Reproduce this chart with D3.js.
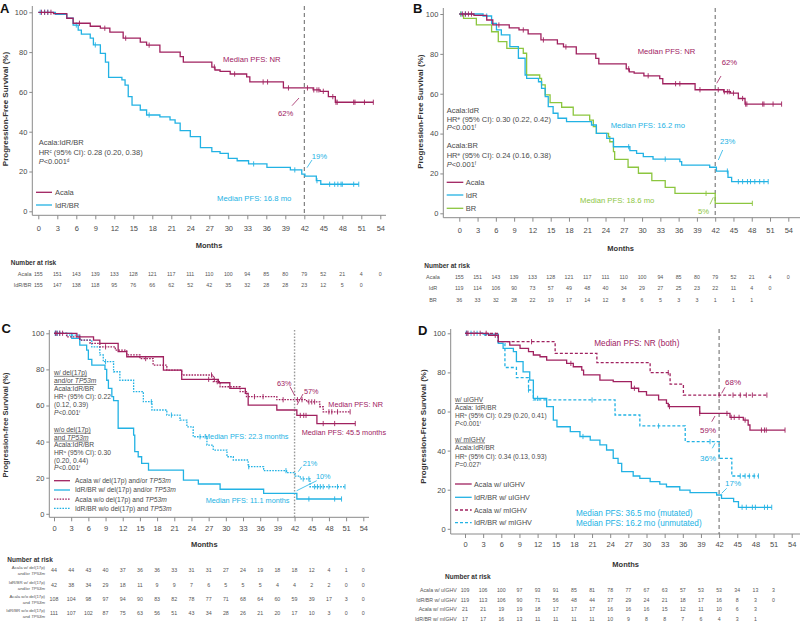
<!DOCTYPE html>
<html><head><meta charset="utf-8">
<script src="https://cdn.jsdelivr.net/npm/d3@7"></script>
<style>body{margin:0;background:#fff}svg{display:block}</style>
</head><body><svg id="c" width="800" height="621"></svg>
<script>
// ---------------- DATA ----------------
const months = d3.range(0, 55, 3);
const survTicks = [0, 20, 40, 60, 80, 100];

// Overall Acala (panels A and B)
const acalaT = [0, 2.4, 4.5, 5.5, 8.2, 9.8, 11.3, 13.4, 16.1, 17.1, 19.2, 22.4, 22.9, 27.4, 27.9, 28.7, 30.3, 32.9, 33.4, 38.7, 43.4, 44.5, 45.8, 46.9, 52.9];
const acalaS = [100, 99.3, 97, 94.5, 93, 92, 90, 87, 85, 83.5, 80, 77.7, 75, 72.5, 71, 70.3, 69, 67.6, 65, 62, 61, 60.3, 57.6, 54.8, 54.8];
const acalaCens = [0.5, 1, 1.5, 2, 6.5, 10.5, 13.8, 17.5, 27.8, 31, 35.5, 36.2, 39.5, 42.5, 43.5, 44, 44.3, 45, 46.5, 47, 47.2, 49.8, 50, 51.5, 52.9];
// Panel A IdR/BR
const idrbrT = [0, 2.7, 4.5, 5.5, 6.3, 6.8, 8.2, 8.7, 9.8, 10.6, 11.1, 13.2, 13.7, 14.2, 14.8, 16.1, 17.1, 19.2, 20.8, 21.6, 22.4, 24.0, 25.6, 27.4, 28.7, 30.0, 31.4, 33.2, 36.1, 39.8, 41.6, 42.1, 43.9, 44.6, 50.6];
const idrbrS = [100, 99, 97, 93.6, 91, 89, 87, 83.6, 79.4, 75, 67.3, 66, 63.4, 57.6, 53.4, 50.9, 48.4, 47.4, 45.9, 44.3, 40.5, 37.5, 32, 30, 29.1, 26.6, 25.4, 23.8, 22.1, 20.8, 18.7, 17.7, 15.4, 13.6, 13.6];
const idrbrCens = [0.3, 1, 1.5, 6, 9, 17.5, 34, 40.5, 44, 46, 46.8, 47.3, 47.8, 48, 49.8, 50.6];
// Panel B IdR and BR
const idrT = [0, 3.9, 5.3, 6.1, 6.9, 8.3, 9.7, 10.8, 11.05, 13, 13.5, 14.1, 14.6, 15.4, 16.2, 17.6, 21.7, 22.5, 24.2, 25.3, 28, 29.1, 30.2, 31.8, 36.2, 36.5, 41.1, 42.2, 44.1, 44.7, 50.7];
const idrS = [100, 99, 95.3, 92, 89.5, 83.6, 77.8, 69.4, 67.7, 66, 62.7, 58.5, 53.5, 50.2, 47.7, 46, 44.3, 40.1, 37.6, 33.4, 31.4, 30.1, 28.4, 27.2, 25.9, 24.2, 23.1, 21.2, 18, 15.9, 15.9];
const idrCens = [0.3, 1, 4.5, 27.8, 33.8, 44, 45.8, 46.5, 47.3, 47.8, 48.5, 49.3, 50, 50.7];
const brT = [0, 0.7, 2.8, 5.3, 6.4, 7.8, 10.5, 11.05, 13.2, 13.5, 14.1, 14.9, 16.8, 18.7, 21.4, 22, 22.5, 24.5, 24.7, 25.3, 25.5, 27.7, 29.4, 31.6, 33.8, 35.4, 42, 48.1];
const brS = [100, 97.8, 94.5, 91.1, 86.1, 82.8, 80.3, 69.4, 67.7, 64.4, 59.4, 55.5, 53.2, 49.3, 46.8, 43.5, 40.1, 38.4, 35.9, 30.9, 27.1, 23.1, 20.1, 16.4, 13, 10, 5, 5];
const brCens = [0.2, 40.5, 48.1];
// Panel C
const cAcalaDelT = [0, 4, 6.9, 8, 11.2, 12.7, 19.1, 22.3, 28.7, 30.7, 33.4, 33.9, 38.9, 42.4, 45.9, 52.6];
const cAcalaDelS = [100, 98, 96.2, 94.4, 89.8, 87, 79.6, 74.5, 72.6, 69.5, 66.7, 60.2, 57.5, 54.5, 50, 50];
const cAcalaDelCens = [0.5, 1.5, 4.5, 27, 28, 43, 43.6, 44, 47, 49, 52.6];
const cIdrDelT = [0, 3.1, 4.5, 5.7, 6, 6.6, 8.9, 9.2, 9.5, 10.1, 10.4, 11.2, 13.9, 14.1, 14.7, 15.3, 16.5, 22.6, 25.2, 29, 36.6, 42.4, 50.2];
const cIdrDelS = [100, 97.2, 93.5, 90.7, 85.5, 82.4, 80, 74, 69.5, 64.9, 62.7, 47.4, 43.6, 34.4, 31.6, 27.9, 24.2, 18.7, 16.5, 13.6, 11.3, 8.2, 8.2];
const cIdrDelCens = [0.3, 44.5, 49, 50.2];
const cAcalaNoT = [0, 2.2, 4.5, 6.3, 8, 10.7, 12.7, 15, 17.3, 19.7, 22.3, 27.8, 29, 32.5, 33.6, 38.9, 44.1, 46.4, 47, 51.7];
const cAcalaNoS = [100, 98, 96.2, 94.4, 92.5, 90.7, 88, 86, 82.4, 79.6, 76.9, 73.2, 70.4, 67.7, 64.9, 63.2, 62, 59.3, 56.5, 56.5];
const cAcalaNoCens = [0.3, 1, 9, 16, 27.5, 28.5, 35, 36.5, 40, 42.5, 43.3, 44.5, 45, 45.5, 48, 48.5, 49.5, 51.7];
const cIdrNoT = [0, 2.2, 4.5, 6.6, 8, 8.6, 10.4, 11.5, 13.9, 15.6, 17.1, 19.7, 22, 23.2, 24.3, 26.7, 27.8, 30.2, 31.3, 33.9, 36.6, 40.6, 42.1, 43, 44.7, 50.8];
const cIdrNoS = [100, 99, 96.2, 92.5, 88, 84.3, 78.7, 74, 67.7, 62.1, 57.5, 54.7, 51.9, 48.2, 42.7, 38.1, 35.3, 31.6, 29.8, 26.1, 23.9, 22.8, 20.9, 19.3, 15, 15];
const cIdrNoCens = [0.2, 0.6, 1, 9, 17, 20.5, 25.5, 34, 40.5, 43.5, 44.5, 45.5, 46, 46.5, 47, 48, 49.5, 50.8];
// Panel D
const dAcalaUT = [0, 3.9, 5.5, 7.4, 9.1, 10.5, 11.3, 12.4, 13.5, 16.8, 17.9, 19.3, 19.6, 22.3, 24.5, 27.5, 28.7, 30, 32, 33.3, 33.6, 38.8, 43.8, 46, 46.8, 47.1, 52.9];
const dAcalaUS = [100, 99, 95.7, 94, 92.3, 90.6, 88.9, 88, 86.3, 84.6, 82.9, 81.2, 78.7, 76.1, 75.3, 71.9, 70.2, 68.4, 65.9, 64.2, 62.5, 59, 57, 55.6, 53.1, 50.5, 50.5];
const dAcalaUCens = [0.5, 1.5, 2.5, 3.5, 5, 17.5, 28, 33.8, 38.8, 43.3, 44, 44.5, 45.3, 46.3, 49, 49.5, 49.8, 52.9];
const dAcalaMT = [0, 5.5, 14.9, 21.8, 30.6, 33.9, 36.1, 49.9];
const dAcalaMS = [100, 95.7, 89.7, 85, 79.9, 74, 68.4, 68.4];
const dAcalaMCens = [0.3, 11, 33.6, 42, 44.3, 45.5, 46.5, 47.5, 49.9];
const dIdrUT = [0, 3, 5.5, 6.3, 8, 8.5, 9.6, 10.7, 11.3, 13.5, 14.6, 15.2, 17.4, 19, 20.7, 22.3, 23.4, 24.5, 25.3, 25.9, 27.8, 28.9, 30.6, 32.2, 33.3, 35.5, 37.2, 41.6, 42.4, 44.4, 45.2, 50.7];
const dIdrUS = [100, 99.6, 94.8, 92.3, 90.6, 85.5, 80.3, 76.1, 66.7, 62.5, 55.6, 52.2, 49.7, 47.2, 45.4, 42.9, 40.3, 36, 33.5, 29.2, 27, 25.8, 24.1, 22.9, 21.5, 19.8, 18.5, 17.3, 15.6, 13.9, 11, 11];
const dIdrUCens = [0.2, 1, 2, 12, 19.5, 45.8, 46.5, 47.5, 48, 49.5, 50, 50.7];
const dIdrMT = [0, 3.3, 5.5, 6.6, 8.5, 10.5, 11.3, 24.8, 28.9, 36.4, 42, 44.1, 48.5];
const dIdrMS = [100, 99, 94.8, 82.5, 77.3, 71, 65.9, 58.2, 52.6, 44.6, 36, 27, 27];
const dIdrMCens = [0.3, 10.5, 21, 32, 40.5, 45.5, 46.3, 47, 47.8, 48.5];

// Numbers at risk
const riskAcala = [155, 151, 143, 139, 133, 128, 121, 117, 111, 110, 100, 94, 85, 80, 79, 52, 21, 4, 0];
const riskIdrbr = [155, 147, 138, 118, 95, 76, 66, 62, 52, 42, 35, 32, 28, 28, 23, 12, 5, 0];
const riskIdr = [119, 114, 106, 90, 73, 57, 49, 48, 40, 34, 29, 27, 25, 23, 22, 11, 4, 0];
const riskBr = [36, 33, 32, 28, 22, 19, 17, 14, 12, 8, 6, 5, 3, 3, 1, 1, 1];
const riskCAcalaDel = [44, 44, 43, 40, 37, 36, 36, 33, 31, 31, 27, 24, 19, 18, 18, 12, 4, 1, 0];
const riskCIdrDel = [42, 38, 34, 29, 18, 11, 9, 9, 7, 6, 5, 5, 5, 4, 4, 2, 2, 0, 0];
const riskCAcalaNo = [108, 104, 98, 97, 94, 90, 83, 82, 78, 77, 71, 68, 64, 60, 59, 39, 17, 3, 0];
const riskCIdrNo = [111, 107, 102, 87, 75, 63, 56, 51, 43, 34, 28, 26, 21, 20, 17, 10, 3, 0, 0];
const riskDAcalaU = [109, 106, 100, 97, 93, 91, 85, 81, 78, 77, 67, 63, 57, 53, 53, 34, 13, 3];
const riskDIdrU = [119, 113, 106, 90, 71, 56, 48, 44, 37, 29, 24, 21, 18, 17, 16, 8, 3, 0];
const riskDAcalaM = [21, 21, 19, 19, 18, 17, 17, 17, 16, 16, 16, 15, 12, 11, 10, 6, 3];
const riskDIdrM = [17, 17, 16, 13, 11, 11, 11, 11, 10, 9, 8, 8, 7, 6, 4, 3, 1];

// ---------------- DRAWING ----------------
const FONT = '"Liberation Sans", Arial, Helvetica, sans-serif';
const MAG = '#a0215f', CY = '#22b2e4', GR = '#8cc63f', TXT = '#4a4a4a', AX = '#8a8a8a';
const svg = d3.select('#c').attr('font-family', FONT);

function txt(g, x, y, segs, o = {}) {
  const size = o.size || 7;
  const t = g.append('text').attr('x', x).attr('y', y).attr('dy', '0.35em')
    .attr('font-size', size).attr('fill', o.fill || TXT)
    .attr('text-anchor', o.anchor || 'start');
  if (o.bold) t.attr('font-weight', 'bold');
  if (o.underline) t.attr('text-decoration', 'underline');
  if (o.rotate) t.attr('transform', `rotate(-90,${x},${y})`);
  if (typeof segs === 'string') segs = [[segs]];
  segs.forEach(([s, st]) => {
    const sp = t.append('tspan').text(s);
    if (st && st.includes('i')) sp.attr('font-style', 'italic');
    if (st && st.includes('s')) sp.attr('baseline-shift', 'super').attr('font-size', size * 0.6);
  });
  return t;
}
function seg(g, x1, y1, x2, y2, c, w = 0.8, dash = null) {
  return g.append('line').attr('x1', x1).attr('y1', y1).attr('x2', x2).attr('y2', y2)
    .attr('stroke', c).attr('stroke-width', w).attr('stroke-dasharray', dash);
}
function setup(L) {
  const g = svg.append('g');
  const x = d3.scaleLinear().domain([0, 54]).range([L.x0, L.x54]);
  const y = d3.scaleLinear().domain([0, 100]).range([L.y0, L.y100]);
  seg(g, L.axX, L.axTop, L.axX, L.axY, AX, 1);
  seg(g, L.axX, L.axY, L.axRight, L.axY, AX, 1);
  const xa = g.append('g').attr('transform', `translate(0,${L.axY})`)
    .call(d3.axisBottom(x).tickValues(months).tickSize(4).tickPadding(L.xpad));
  xa.select('.domain').remove();
  xa.attr('font-family', FONT).attr('font-size', 7.5);
  xa.selectAll('line').attr('stroke', AX);
  xa.selectAll('text').attr('fill', TXT);
  const ya = g.append('g').attr('transform', `translate(${L.axX},0)`)
    .call(d3.axisLeft(y).tickValues(survTicks).tickSize(3).tickPadding(2));
  ya.select('.domain').remove();
  ya.attr('font-family', FONT).attr('font-size', 7.5);
  ya.selectAll('line').attr('stroke', AX);
  ya.selectAll('text').attr('fill', TXT);
  return { g, x, y };
}
function curve(P, T, S, cens, color, dash) {
  const pts = T.map((t, i) => [t, S[i]]);
  P.g.append('path').datum(pts)
    .attr('d', d3.line().x(d => P.x(d[0])).y(d => P.y(d[1])).curve(d3.curveStepAfter))
    .attr('fill', 'none').attr('stroke', color).attr('stroke-width', 1.3)
    .attr('stroke-dasharray', dash || null);
  cens.forEach(c => {
    let i = 0; while (i + 1 < T.length && T[i + 1] <= c) i++;
    const cx = P.x(c), cy = P.y(S[i]);
    seg(P.g, cx, cy - 2.6, cx, cy + 2.6, color, 0.9);
  });
}
function refLine(P, L, color, dash, w) {
  seg(P.g, P.x(42), L.axTop, P.x(42), L.axY, color, w, dash);
}
function riskRow(P, vals, yy, size) {
  vals.forEach((v, i) => txt(P.g, P.x(months[i]), yy, String(v), { size, anchor: 'middle', fill: '#555' }));
}
function legendItem(g, x1, x2, tx, yy, color, dash, label, size) {
  seg(g, x1, yy, x2, yy, color, 1.3, dash);
  txt(g, tx, yy, label, { size });
}

// ---------- Panel A ----------
{
  const L = { x0: 38.3, x54: 380.3, y0: 211.3, y100: 12.3, axX: 32.3, axY: 215.3, axRight: 386, axTop: 6, xpad: 6 };
  const P = setup(L);
  refLine(P, L, '#555', '4,3', 0.9);
  curve(P, idrbrT, idrbrS, idrbrCens, CY);
  curve(P, acalaT, acalaS, acalaCens, MAG);
  txt(P.g, 0, 8, 'A', { size: 13, bold: true, fill: '#111' });
  txt(P.g, 5, 109, 'Progression-Free Survival (%)', { size: 8, bold: true, anchor: 'middle', rotate: true, fill: '#333' });
  txt(P.g, 223, 59, 'Median PFS: NR', { size: 7.7, fill: MAG });
  txt(P.g, 278, 113, '62%', { size: 7.7, fill: MAG });
  seg(P.g, 292, 105.7, 299, 98, MAG);
  txt(P.g, 311.7, 156.7, '19%', { size: 7.7, fill: CY });
  seg(P.g, 307, 167.7, 312, 160, CY);
  txt(P.g, 217, 198, 'Median PFS: 16.8 mo', { size: 7.7, fill: CY });
  txt(P.g, 38.7, 142.7, 'Acala:IdR/BR', { size: 7.5 });
  txt(P.g, 38.7, 152, [['HR'], ['c', 's'], [' (95% CI): 0.28 (0.20, 0.38)']], { size: 7.5 });
  txt(P.g, 38.7, 161.7, [['P', 'i'], ['<0.001'], ['d', 's']], { size: 7.5 });
  legendItem(P.g, 36, 52, 55, 192.3, MAG, null, 'Acala', 7.5);
  legendItem(P.g, 36, 52, 55, 205, CY, null, 'IdR/BR', 7.5);
  txt(P.g, 209, 245.7, 'Months', { size: 7.5, bold: true, anchor: 'middle', fill: '#333' });
  txt(P.g, 10.7, 262.7, 'Number at risk', { size: 6.5, bold: true, fill: '#333' });
  txt(P.g, 31.5, 274, 'Acala', { size: 5.5, anchor: 'end', fill: '#555' });
  txt(P.g, 31.5, 285, 'IdR/BR', { size: 5.5, anchor: 'end', fill: '#555' });
  riskRow(P, riskAcala, 274, 5.3);
  riskRow(P, riskIdrbr, 285, 5.3);
}

// ---------- Panel B ----------
{
  const L = { x0: 459.3, x54: 788.3, y0: 213.3, y100: 14, axX: 443.3, axY: 217.7, axRight: 800, axTop: 8, xpad: 6 };
  const P = setup(L);
  refLine(P, L, '#555', '4,3', 0.9);
  curve(P, brT, brS, brCens, GR);
  curve(P, idrT, idrS, idrCens, CY);
  curve(P, acalaT, acalaS, acalaCens, MAG);
  txt(P.g, 413, 8.5, 'B', { size: 13, bold: true, fill: '#111' });
  txt(P.g, 420, 111.7, 'Progression-Free Survival (%)', { size: 8, bold: true, anchor: 'middle', rotate: true, fill: '#333' });
  txt(P.g, 637.7, 51, 'Median PFS: NR', { size: 7.7, fill: MAG });
  txt(P.g, 721.7, 62.3, '62%', { size: 7.7, fill: MAG });
  seg(P.g, 716.7, 83.3, 721, 76, MAG);
  txt(P.g, 446.7, 110, 'Acala:IdR', { size: 7.5 });
  txt(P.g, 446.7, 119, [['HR'], ['e', 's'], [' (95% CI): 0.30 (0.22, 0.42)']], { size: 7.5 });
  txt(P.g, 446.7, 127, [['P', 'i'], ['<0.001'], ['f', 's']], { size: 7.5 });
  txt(P.g, 446.7, 145.7, 'Acala:BR', { size: 7.5 });
  txt(P.g, 446.7, 155, [['HR'], ['e', 's'], [' (95% CI): 0.24 (0.16, 0.38)']], { size: 7.5 });
  txt(P.g, 446.7, 164.5, [['P', 'i'], ['<0.001'], ['f', 's']], { size: 7.5 });
  legendItem(P.g, 446.7, 463.3, 465.7, 182.3, MAG, null, 'Acala', 7.5);
  legendItem(P.g, 446.7, 463.3, 465.7, 195, CY, null, 'IdR', 7.5);
  legendItem(P.g, 446.7, 463.3, 465.7, 208.3, GR, null, 'BR', 7.5);
  txt(P.g, 610.7, 125, 'Median PFS: 16.2 mo', { size: 7.7, fill: CY });
  txt(P.g, 720, 141.7, '23%', { size: 7.7, fill: CY });
  seg(P.g, 718.3, 160, 722.7, 150, CY);
  txt(P.g, 580, 200.7, 'Median PFS: 18.6 mo', { size: 7.7, fill: GR });
  txt(P.g, 698, 211.7, '5%', { size: 7.7, fill: GR });
  seg(P.g, 710, 204.3, 713.3, 197.3, GR);
  txt(P.g, 620.7, 248.3, 'Months', { size: 7.5, bold: true, anchor: 'middle', fill: '#333' });
  txt(P.g, 424.3, 266, 'Number at risk', { size: 6.5, bold: true, fill: '#333' });
  txt(P.g, 433, 277.3, 'Acala', { size: 5.5, anchor: 'middle', fill: '#555' });
  txt(P.g, 433, 288.3, 'IdR', { size: 5.5, anchor: 'middle', fill: '#555' });
  txt(P.g, 433, 300, 'BR', { size: 5.5, anchor: 'middle', fill: '#555' });
  riskRow(P, riskAcala, 277.3, 5.3);
  riskRow(P, riskIdr, 288.3, 5.3);
  riskRow(P, riskBr, 300, 5.3);
}

// ---------- Panel C ----------
{
  const L = { x0: 54, x54: 363.3, y0: 513.8, y100: 333.3, axX: 49.3, axY: 517.3, axRight: 369, axTop: 330, xpad: 4 };
  const P = setup(L);
  refLine(P, L, '#9a9a9a', '1.6,1.6', 1.4);
  const dot = '1.6,1.2';
  curve(P, cIdrNoT, cIdrNoS, cIdrNoCens, CY, dot);
  curve(P, cIdrDelT, cIdrDelS, cIdrDelCens, CY);
  curve(P, cAcalaNoT, cAcalaNoS, cAcalaNoCens, MAG, dot);
  curve(P, cAcalaDelT, cAcalaDelS, cAcalaDelCens, MAG);
  txt(P.g, 1.5, 328, 'C', { size: 13, bold: true, fill: '#111' });
  txt(P.g, 5, 425, 'Progression-free Survival (%)', { size: 7.5, bold: true, anchor: 'middle', rotate: true, fill: '#333' });
  const s = 6.7;
  txt(P.g, 54, 372.5, 'w/ del(17p)', { size: s, underline: true });
  txt(P.g, 54, 381, [['and/or '], ['TP53m', 'i']], { size: s, underline: true });
  txt(P.g, 54, 388.8, 'Acala:IdR/BR', { size: s });
  txt(P.g, 54, 396.7, [['HR'], ['a', 's'], [' (95% CI): 0.22']], { size: s });
  txt(P.g, 54, 405, '(0.12, 0.39)', { size: s });
  txt(P.g, 54, 412.5, [['P', 'i'], ['<0.001'], ['f', 's']], { size: s });
  txt(P.g, 54, 429.5, 'w/o del(17p)', { size: s, underline: true });
  txt(P.g, 54, 437.3, [['and '], ['TP53m', 'i']], { size: s, underline: true });
  txt(P.g, 54, 445, 'Acala:IdR/BR', { size: s });
  txt(P.g, 54, 452.8, [['HR'], ['a', 's'], [' (95% CI): 0.30']], { size: s });
  txt(P.g, 54, 461, '(0.20, 0.44)', { size: s });
  txt(P.g, 54, 468, [['P', 'i'], ['<0.001'], ['f', 's']], { size: s });
  legendItem(P.g, 54, 70, 75, 480.7, MAG, null, [['Acala w/ del(17p) and/or '], ['TP53m', 'i']], s);
  legendItem(P.g, 54, 70, 75, 490, CY, null, [['IdR/BR w/ del(17p) and/or '], ['TP53m', 'i']], s);
  legendItem(P.g, 54, 70, 75, 499.2, MAG, dot, [['Acala w/o del(17p) and '], ['TP53m', 'i']], s);
  legendItem(P.g, 54, 70, 75, 508.3, CY, dot, [['IdR/BR w/o del(17p) and '], ['TP53m', 'i']], s);
  txt(P.g, 277, 383.3, '63%', { size: 7.3, fill: MAG });
  seg(P.g, 290, 386.7, 295, 396, MAG);
  txt(P.g, 304, 391, '57%', { size: 7.3, fill: MAG });
  seg(P.g, 303, 394, 297, 405, MAG);
  txt(P.g, 328.3, 404, 'Median PFS: NR', { size: 7.3, fill: MAG });
  txt(P.g, 301.7, 432.3, 'Median PFS: 45.5 months', { size: 7.3, fill: MAG });
  txt(P.g, 204, 436.7, 'Median PFS: 22.3 months', { size: 7.3, fill: CY });
  txt(P.g, 302.7, 463, '21%', { size: 7.3, fill: CY });
  seg(P.g, 298.3, 471.7, 301.7, 466.7, CY);
  txt(P.g, 316, 476.7, '10%', { size: 7.3, fill: CY });
  seg(P.g, 296.7, 490.7, 316.7, 480.7, CY);
  txt(P.g, 205.7, 500.7, 'Median PFS: 11.1 months', { size: 7.3, fill: CY });
  txt(P.g, 204.3, 544.3, 'Months', { size: 7.5, bold: true, anchor: 'middle', fill: '#333' });
  txt(P.g, 7.3, 559.3, 'Number at risk', { size: 6.5, bold: true, fill: '#333' });
  const rl = 4.3, rx = 45;
  const rows = [
    [riskCAcalaDel, 570, 'Acala w/ del(17p)', [['and/or '], ['TP53m', 'i']]],
    [riskCIdrDel, 585, 'IdR/BR w/ del(17p)', [['and/or '], ['TP53m', 'i']]],
    [riskCAcalaNo, 599, 'Acala w/o del(17p)', [['and '], ['TP53m', 'i']]],
    [riskCIdrNo, 613.5, 'IdR/BR w/o del(17p)', [['and '], ['TP53m', 'i']]]
  ];
  rows.forEach(([vals, yy, l1, l2]) => {
    txt(P.g, rx, yy - 3, l1, { size: rl, anchor: 'end', fill: '#555' });
    txt(P.g, rx, yy + 3, l2, { size: rl, anchor: 'end', fill: '#555' });
    riskRow(P, vals, yy, 5.3);
  });
}

// ---------- Panel D ----------
{
  const L = { x0: 465, x54: 791.7, y0: 528.8, y100: 333.3, axX: 450.7, axY: 534, axRight: 800, axTop: 329, xpad: 4 };
  const P = setup(L);
  refLine(P, L, '#555', '4,3', 0.9);
  const dsh = '3,2';
  curve(P, dIdrMT, dIdrMS, dIdrMCens, CY, dsh);
  curve(P, dIdrUT, dIdrUS, dIdrUCens, CY);
  curve(P, dAcalaMT, dAcalaMS, dAcalaMCens, MAG, dsh);
  curve(P, dAcalaUT, dAcalaUS, dAcalaUCens, MAG);
  txt(P.g, 418, 330, 'D', { size: 13, bold: true, fill: '#111' });
  txt(P.g, 423.3, 426.5, 'Progression-Free Survival (%)', { size: 8, bold: true, anchor: 'middle', rotate: true, fill: '#333' });
  txt(P.g, 594.3, 343.3, 'Median PFS: NR (both)', { size: 8.2, fill: MAG });
  txt(P.g, 725, 381.7, '68%', { size: 8, fill: MAG });
  seg(P.g, 721.7, 393.3, 725, 387.3, MAG);
  txt(P.g, 700, 430, '59%', { size: 8, fill: MAG });
  seg(P.g, 711.7, 421.7, 715, 416, MAG);
  txt(P.g, 700, 458.3, '36%', { size: 8, fill: CY });
  seg(P.g, 712.3, 448.3, 715, 443.3, CY);
  txt(P.g, 725, 483.3, '17%', { size: 8, fill: CY });
  seg(P.g, 721.7, 493.3, 726.7, 488.3, CY);
  txt(P.g, 576, 513.3, 'Median PFS: 36.5 mo (mutated)', { size: 8.2, fill: CY });
  txt(P.g, 576, 523.3, 'Median PFS: 16.2 mo (unmutated)', { size: 8.2, fill: CY });
  const s = 6.6;
  txt(P.g, 455, 400, 'w/ uIGHV', { size: s, underline: true });
  txt(P.g, 455, 407.7, 'Acala: IdR/BR', { size: s });
  txt(P.g, 455, 416, [['HR'], ['a', 's'], [' (95% CI): 0.29 (0.20, 0.41)']], { size: s });
  txt(P.g, 455, 424, [['P', 'i'], ['<0.001'], ['f', 's']], { size: s });
  txt(P.g, 455, 439.3, 'w/ mIGHV', { size: s, underline: true });
  txt(P.g, 455, 448, 'Acala:IdR/BR', { size: s });
  txt(P.g, 455, 456.5, [['HR'], ['a', 's'], [' (95% CI): 0.34 (0.13, 0.93)']], { size: s });
  txt(P.g, 455, 465, [['P', 'i'], ['=0.027'], ['f', 's']], { size: s });
  legendItem(P.g, 455, 471.7, 474, 484, MAG, null, 'Acala w/ uIGHV', 7.2);
  legendItem(P.g, 455, 471.7, 474, 497.3, CY, null, 'IdR/BR w/ uIGHV', 7.2);
  legendItem(P.g, 455, 471.7, 474, 510, MAG, dsh, 'Acala w/ mIGHV', 7.2);
  legendItem(P.g, 455, 471.7, 474, 522.7, CY, dsh, 'IdR/BR w/ mIGHV', 7.2);
  txt(P.g, 625.7, 564.3, 'Months', { size: 7.5, bold: true, anchor: 'middle', fill: '#333' });
  txt(P.g, 445, 576.7, 'Number at risk', { size: 6.5, bold: true, fill: '#333' });
  const rows = [
    [riskDAcalaU, 590, 'Acala w/ uIGHV'],
    [riskDIdrU, 600, 'IdR/BR w/ uIGHV'],
    [riskDAcalaM, 609.3, 'Acala w/ mIGHV'],
    [riskDIdrM, 618.7, 'IdR/BR w/ mIGHV']
  ];
  rows.forEach(([vals, yy, l]) => {
    txt(P.g, 456.7, yy, l, { size: 5.2, anchor: 'end', fill: '#555' });
    riskRow(P, vals, yy, 5.2);
  });
}
</script>
</body></html>
